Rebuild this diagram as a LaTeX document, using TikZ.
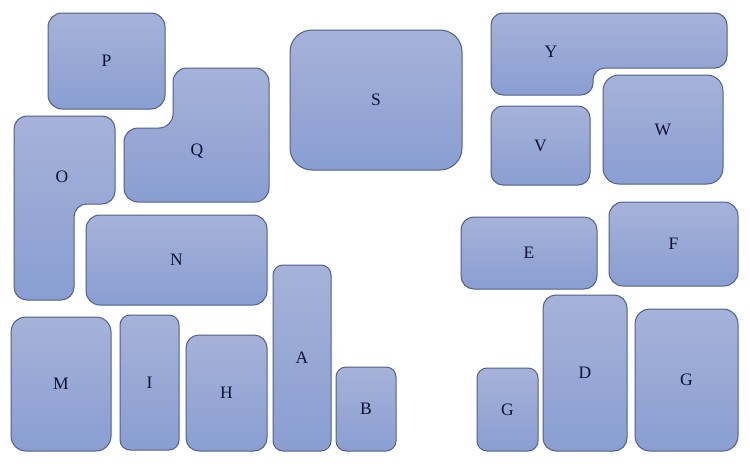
\documentclass[tikz,border=0pt]{standalone}
\usepackage{fontspec}
\setmainfont{Liberation Serif}
\definecolor{boxtop}{HTML}{A6B2D9}
\definecolor{boxbot}{HTML}{8A9ED2}
\definecolor{boxline}{HTML}{50608A}
\definecolor{txt}{HTML}{0C1230}
\tikzset{
  shp/.style={draw=boxline, line width=1pt, top color=boxtop, bottom color=boxbot},
  boxnode/.style={shp, rectangle, inner sep=0pt, outer sep=0pt, text=txt, font=\fontsize{17.5}{19}\selectfont},
  lbl/.style={text=txt, font=\fontsize{17.5}{19}\selectfont, inner sep=0pt}
}
\newcommand\bx[7]{%
  \node[boxnode, rounded corners=#7pt, minimum width={(#4-#2)*1pt}, minimum height={(#5-#3)*1pt}]
    (#1) at ({(#2+#4)/2},{(#3+#5)/2}) {#6};}
\begin{document}
\begin{tikzpicture}[x=1pt,y=-1pt]
\useasboundingbox[fill=white] (0,0) rectangle (750,469);
% L-shaped boxes
\path[shp, rounded corners=13pt] (14,116) -- (115,116) -- (115,204) -- (74,204) -- (74,300) -- (14,300) -- cycle;
\node[lbl] (O) at (62,177) {O};
\path[shp, rounded corners=14pt] (173,68) -- (269,68) -- (269,202) -- (124,202) -- (124,128) -- (173,128) -- cycle;
\node[lbl] (Q) at (197,151) {Q};
\path[shp, rounded corners=12pt] (491,13) -- (727,13) -- (727,68) -- (593,68) -- (593,95) -- (491,95) -- cycle;
\node[lbl] (Y) at (551,52) {Y};
% rectangles
\bx{P}{48}{13}{165}{109}{P}{14}
\bx{N}{86}{215}{267}{305}{N}{14}
\bx{S}{290}{30}{462}{170}{S}{22}
\bx{V}{491}{106}{590}{185}{V}{12}
\bx{W}{603}{75}{723}{184}{W}{16}
\bx{E}{461}{217}{597}{289}{E}{13}
\bx{F}{609}{202}{738}{286}{F}{14}
\bx{M}{11}{317}{111}{451}{M}{15}
\bx{I}{120}{315}{179}{450}{I}{10}
\bx{H}{186}{335}{267}{451}{H}{13}
\bx{A}{273}{265}{331}{451}{A}{10}
\bx{B}{336}{367}{396}{451}{B}{10}
\bx{G1}{477}{368}{538}{451}{G}{10}
\bx{D}{543}{295}{627}{451}{D}{13}
\bx{G2}{635}{309}{738}{451}{G}{15}
\end{tikzpicture}
\end{document}
